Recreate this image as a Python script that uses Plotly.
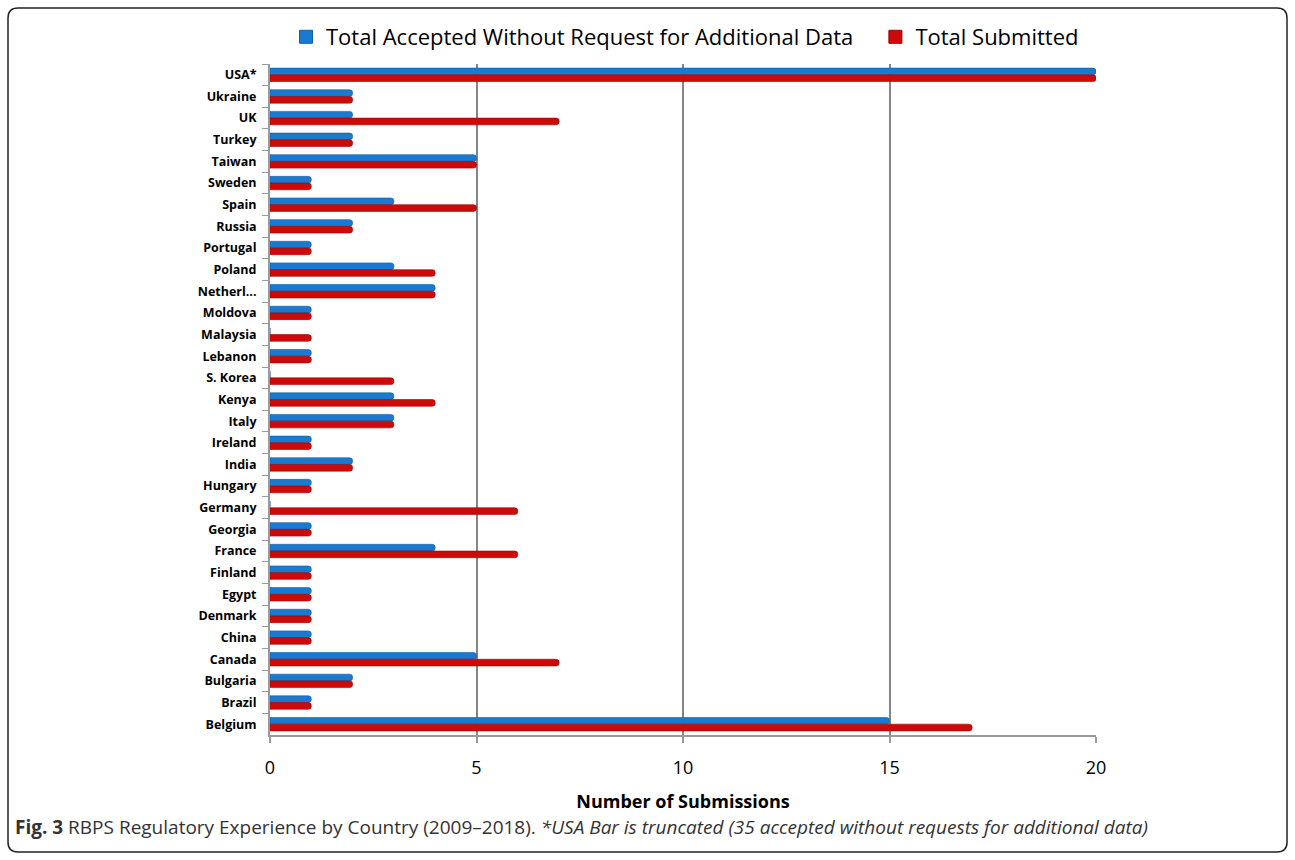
import plotly.graph_objects as go

countries = ["USA*", "Ukraine", "UK", "Turkey", "Taiwan", "Sweden", "Spain", "Russia",
             "Portugal", "Poland", "Netherl...", "Moldova", "Malaysia", "Lebanon", "S. Korea",
             "Kenya", "Italy", "Ireland", "India", "Hungary", "Germany", "Georgia", "France",
             "Finland", "Egypt", "Denmark", "China", "Canada", "Bulgaria", "Brazil", "Belgium"]
accepted = [20, 2, 2, 2, 5, 1, 3, 2, 1, 3, 4, 1, 0, 1, 0, 3, 3, 1, 2, 1, 0, 1, 4, 1, 1, 1, 1, 5, 2, 1, 15]
submitted = [20, 2, 7, 2, 5, 1, 5, 2, 1, 4, 4, 1, 1, 1, 3, 4, 3, 1, 2, 1, 6, 1, 6, 1, 1, 1, 1, 7, 2, 1, 17]
x_ticks = [0, 5, 10, 15, 20]

series_names = ["Total Accepted Without Request for Additional Data", "Total Submitted"]
colors = ["#1a7ad0", "#cc0a0a"]
edge = ["#0f5ea8", "#a00000"]

W, H = 1295, 860
L, R, T, B = 270, 1096, 64, 735
pw, ph = R - L, B - T

def px_x(p):
    return (p - L) / pw

def px_y(p):
    return (B - p) / ph

fig = go.Figure()
for name, vals, c, e in zip(series_names, [accepted, submitted], colors, edge):
    fig.add_trace(go.Bar(
        y=countries, x=vals, name=name, orientation="h", showlegend=False,
        marker=dict(color=c, line=dict(color=e, width=0.6), cornerradius=3),
    ))

# legend entries with square swatches
legend_labels = [series_names[0] + "&nbsp;&nbsp;&nbsp;", series_names[1]]
for lab, c, e in zip(legend_labels, colors, edge):
    fig.add_trace(go.Scatter(
        x=[None], y=[None], mode="markers", name=lab,
        marker=dict(symbol="square", size=13, color=c, line=dict(color=e, width=1)),
    ))

# rounded outer frame
x0, x1 = px_x(8), px_x(1287)
y0, y1 = px_y(852), px_y(8)
rx, ry = 10 / pw, 10 / ph
path = (f"M {x0+rx},{y1} L {x1-rx},{y1} Q {x1},{y1} {x1},{y1-ry} "
        f"L {x1},{y0+ry} Q {x1},{y0} {x1-rx},{y0} L {x0+rx},{y0} "
        f"Q {x0},{y0} {x0},{y0+ry} L {x0},{y1-ry} Q {x0},{y1} {x0+rx},{y1} Z")
fig.add_shape(type="path", path=path, xref="paper", yref="paper",
              line=dict(color="#222222", width=1.5), layer="below")

fig.add_annotation(
    x=px_x(13), y=px_y(827), xref="paper", yref="paper", xanchor="left", yanchor="middle",
    showarrow=False,
    text="<b>Fig. 3</b> RBPS Regulatory Experience by Country (2009–2018). "
         "<i>*USA Bar is truncated (35 accepted without requests for additional data)</i>",
    font=dict(family="Open Sans", size=19, color="#333333"),
)

fig.update_layout(
    width=W, height=H,
    margin=dict(l=L, r=W - R, t=T, b=H - B),
    paper_bgcolor="white", plot_bgcolor="white",
    barmode="group", bargap=0.38, bargroupgap=0.0,
    font=dict(family="Open Sans", color="#000000"),
    legend=dict(orientation="h", x=px_x(685), xanchor="center", y=px_y(37), yanchor="middle",
                font=dict(size=22, family="Open Sans"), traceorder="normal", itemwidth=30),
    xaxis=dict(range=[0, 20], tickvals=x_ticks, showgrid=True, gridcolor="#858585", gridwidth=2,
               showline=True, linecolor="#9a9a9a", linewidth=2, mirror=False,
               ticks="outside", ticklen=6, tickcolor="#9a9a9a", tickwidth=1.5,
               tickfont=dict(size=18, color="#000000"), zeroline=False, ticklabelstandoff=9,
               title=dict(text="<b>Number of Submissions</b>", font=dict(size=18), standoff=18)),
    yaxis=dict(autorange="reversed", showline=True, linecolor="#9a9a9a", linewidth=2,
               ticks="outside", ticklen=6, tickcolor="#9a9a9a", tickson="boundaries",
               tickfont=dict(size=12.5, color="#000000", family="Open Sans", weight="bold"),
               showgrid=False, ticklabelstandoff=9),
)

fig.write_html("out.html")
